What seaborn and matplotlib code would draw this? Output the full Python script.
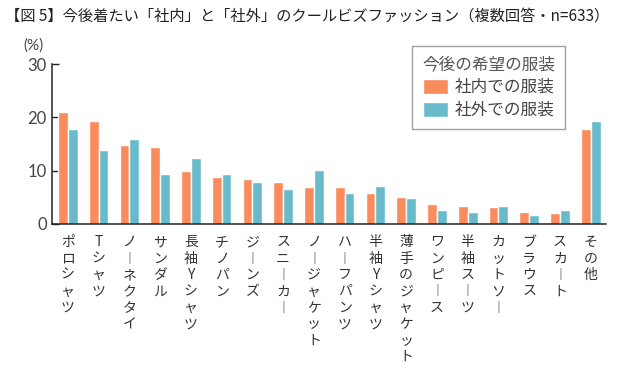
import matplotlib
matplotlib.use('agg')
import matplotlib.pyplot as plt
import numpy as np
import pandas as pd
import seaborn as sns

# data
items = ['ポロシャツ', 'Tシャツ', 'ノーネクタイ', 'サンダル', '長袖Yシャツ', 'チノパン',
         'ジーンズ', 'スニーカー', 'ノージャケット', 'ハーフパンツ', '半袖Yシャツ',
         '薄手のジャケット', 'ワンピース', '半袖スーツ', 'カットソー', 'ブラウス',
         'スカート', 'その他']
inside = [21.0, 19.3, 14.8, 14.4, 9.9, 8.9, 8.4, 7.8, 6.9, 6.9, 5.9,
          5.1, 3.8, 3.3, 3.1, 2.3, 2.1, 17.8]
outside = [17.9, 13.8, 15.9, 9.4, 12.3, 9.4, 7.8, 6.6, 10.1, 5.9, 7.2,
           4.8, 2.6, 2.3, 3.4, 1.6, 2.6, 19.4]
series = ['社内での服装', '社外での服装']
colors = ['#F98B5C', '#69BBCB']
yticks = [0, 10, 20, 30]

df = pd.DataFrame({
    'item': items * 2,
    'series': [series[0]] * len(items) + [series[1]] * len(items),
    'value': inside + outside,
})

sns.set_theme(style='white')
plt.rcParams['font.family'] = ['Noto Sans CJK JP', 'DejaVu Sans']

fig = plt.figure(figsize=(6.4, 3.73), dpi=100)
ax = fig.add_axes([0.082, 0.3995, 0.865, 0.4285])

sns.barplot(data=df, x='item', y='value', hue='series', palette=colors,
            width=0.64, saturation=1, ax=ax, legend=True)

ax.set_xlim(-0.5, len(items) - 0.5)
ax.set_ylim(0, 30)
ax.set_xlabel('')
ax.set_ylabel('')

for s in ['top', 'right']:
    ax.spines[s].set_visible(False)
for s in ['left', 'bottom']:
    ax.spines[s].set_color('#222222')
    ax.spines[s].set_linewidth(1.1)

# vertical japanese labels, one char per line
def vert(label):
    return '\n'.join('︱' if ch == 'ー' else ch for ch in label)

ax.set_xticks(range(len(items)))
ax.set_xticklabels([vert(t) for t in items], fontsize=10, color='#333333',
                   linespacing=1.22, va='top')
ax.tick_params(axis='x', which='major', length=0, pad=8)
ax.set_xticks(np.arange(0.5, len(items)), minor=True)
ax.tick_params(axis='x', which='minor', direction='in', length=4,
               width=1, color='#222222')

ax.set_yticks(yticks)
ax.set_yticklabels([str(v) for v in yticks], family='Lato', fontsize=12,
                   color='#444444')
ax.tick_params(axis='y', direction='in', length=5, width=1, color='#222222',
               pad=4, left=True)

leg = ax.legend(title='今後の希望の服装', loc='upper left',
                bbox_to_anchor=(0.644, 0.877), bbox_transform=fig.transFigure,
                fontsize=12, title_fontsize=12, frameon=True,
                fancybox=False, edgecolor='#888888', handlelength=1.5,
                handleheight=1.0, handletextpad=0.4, labelspacing=0.35,
                borderpad=0.6, borderaxespad=0)
leg.get_frame().set_linewidth(1)
leg.get_title().set_color('#555555')
for t in leg.get_texts():
    t.set_color('#444444')

fig.text(0.008, 0.958, '【図 5】今後着たい「社内」と「社外」のクールビズファッション（複数回答・n=633）',
         fontsize=11, color='#222222', va='center', ha='left')
fig.text(0.052, 0.878, '(%)', fontsize=11, color='#444444', va='center',
         ha='center', family='Lato')

fig.savefig('out.png', dpi=100)
